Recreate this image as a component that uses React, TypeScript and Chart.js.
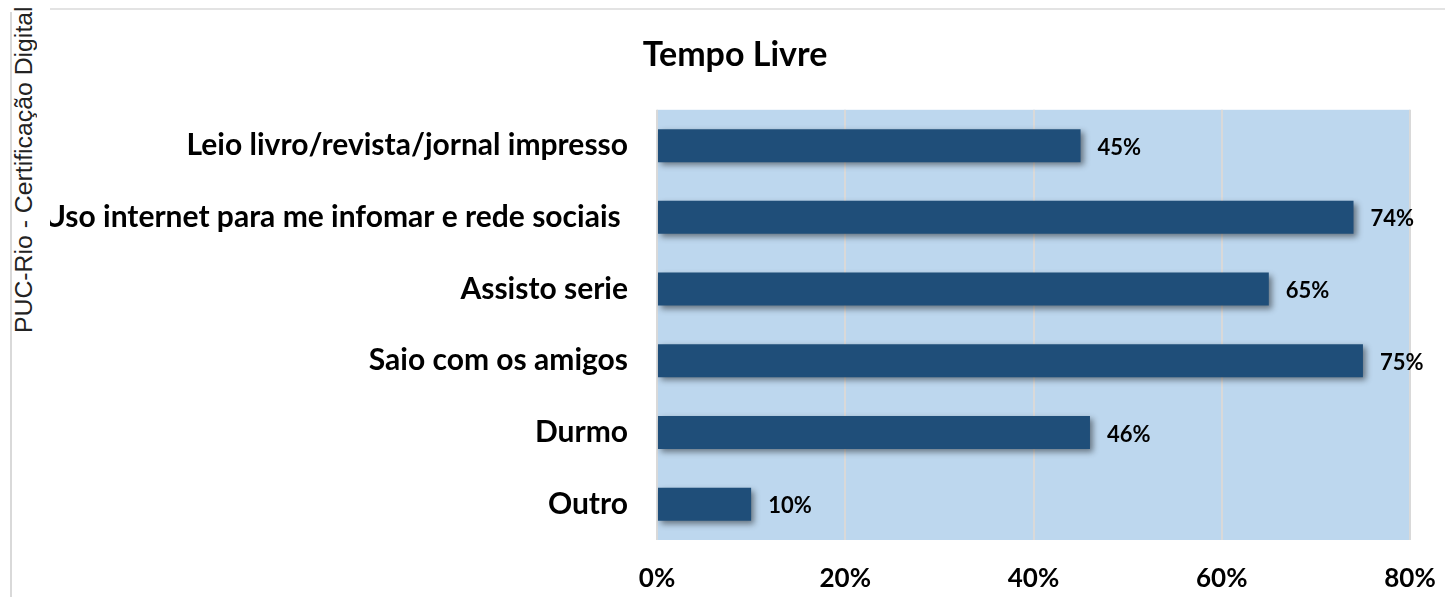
import React, { useEffect, useRef } from "react";
import { Chart, registerables } from "chart.js";

Chart.register(...registerables);

const categories = [
  "Leio livro/revista/jornal impresso",
  "Uso internet para me infomar e rede sociais ",
  "Assisto serie",
  "Saio com os amigos",
  "Durmo",
  "Outro",
];
const values = [45, 74, 65, 75, 46, 10];
const xTicks = [0, 20, 40, 60, 80];
const title = "Tempo Livre";
const sideNote = "PUC-Rio - Certificação Digital";

const FONT = "Lato, 'Open Sans', sans-serif";

const bgPlugin = {
  id: "plotBg",
  beforeDraw(chart: any) {
    const { ctx, chartArea } = chart;
    ctx.save();
    ctx.fillStyle = "#BDD7EE";
    ctx.fillRect(chartArea.left, chartArea.top, chartArea.right - chartArea.left, chartArea.bottom - chartArea.top);
    ctx.restore();
  },
  beforeDatasetsDraw(chart: any) {
    const ctx = chart.ctx;
    ctx.save();
    ctx.shadowColor = "rgba(0,0,0,0.45)";
    ctx.shadowBlur = 6;
    ctx.shadowOffsetX = 3;
    ctx.shadowOffsetY = 3;
  },
  afterDatasetsDraw(chart: any) {
    const ctx = chart.ctx;
    ctx.restore();
    const meta = chart.getDatasetMeta(0);
    ctx.save();
    ctx.fillStyle = "#000";
    ctx.font = `bold 22px ${FONT}`;
    ctx.textAlign = "left";
    ctx.textBaseline = "middle";
    meta.data.forEach((bar: any, i: number) => {
      ctx.fillText(`${values[i]}%`, bar.x + 17, bar.y + 2);
    });
    ctx.restore();
  },
};

export default function App() {
  const ref = useRef<HTMLCanvasElement | null>(null);
  useEffect(() => {
    if (!ref.current) return;
    const chart = new Chart(ref.current, {
      type: "bar",
      data: {
        labels: categories,
        datasets: [
          {
            data: values,
            backgroundColor: "#1F4E79",
            borderWidth: 0,
            barPercentage: 0.46,
            categoryPercentage: 1,
          },
        ],
      },
      plugins: [bgPlugin],
      options: {
        indexAxis: "y",
        animation: false,
        responsive: false,
        maintainAspectRatio: false,
        layout: { padding: 0 },
        plugins: {
          legend: { display: false },
          tooltip: { enabled: false },
          title: {
            display: true,
            text: title,
            color: "#000",
            font: { family: FONT, size: 34, weight: "bold" },
            padding: { top: 35, bottom: 34 },
          },
        },
        scales: {
          x: {
            min: 0,
            max: 80,
            afterBuildTicks: (scale: any) => {
              scale.ticks = xTicks.map((v) => ({ value: v }));
            },
            afterFit: (scale: any) => {
              scale.height = 57;
              scale.paddingLeft = 0;
              scale.paddingRight = 35;
            },
            ticks: {
              callback: (v: any) => `${v}%`,
              color: "#000",
              font: { family: FONT, size: 26, weight: "bold" },
              padding: 23,
              maxRotation: 0,
            },
            grid: { color: "#D9D9D9", lineWidth: 2, drawTicks: false },
            border: { display: false },
          },
          y: {
            afterFit: (scale: any) => {
              scale.width = 632;
            },
            ticks: {
              color: "#000",
              font: { family: FONT, size: 30, weight: "bold" },
              padding: 29,
              autoSkip: false,
            },
            grid: { display: false, drawTicks: false },
            border: { display: false },
          },
        },
      },
    } as any);
    return () => chart.destroy();
  }, []);

  return (
    <div style={{ position: "absolute", left: 0, top: 0, width: 1445, height: 597, overflow: "hidden", background: "#fff" }}>
      <div style={{ position: "absolute", left: 10, top: 12, width: 2, height: 585, background: "#D9D9D9" }} />
      <div style={{ position: "absolute", left: 50, top: 8, width: 1395, height: 2, background: "#E3E3E3" }} />
      <div
        style={{
          position: "absolute",
          left: 13,
          top: 0,
          height: 333,
          writingMode: "vertical-rl",
          transform: "rotate(180deg)",
          fontFamily: "'Liberation Sans', Arial, sans-serif",
          fontSize: 24.8,
          lineHeight: "22px",
          color: "#222",
          whiteSpace: "nowrap",
          textAlign: "left",
        }}
      >
        {sideNote}
      </div>
      <div style={{ position: "absolute", left: 50, top: 0, width: 1395, height: 597, overflow: "hidden" }}>
        <canvas ref={ref} width={1420} height={597} style={{ position: "absolute", left: -25, top: 0 }} />
      </div>
    </div>
  );
}
